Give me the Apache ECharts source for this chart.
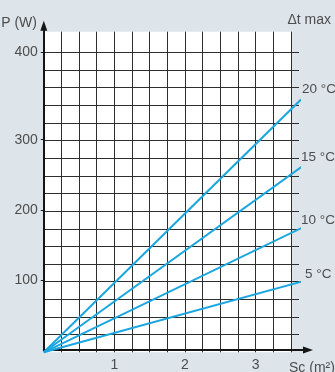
<!DOCTYPE html>
<html>
<head>
<meta charset="utf-8">
<script src="https://cdn.jsdelivr.net/npm/echarts@6/dist/echarts.min.js"></script>
<style>
html,body{margin:0;padding:0;background:#dde5eb;}
#c{width:335px;height:372px;}
</style>
</head>
<body>
<div id="c"></div>
<script>
// ---- data ----
const seriesNames = ['5 °C', '10 °C', '15 °C', '20 °C'];
const dt5  = [[0, 0], [3.68, 101]];
const dt10 = [[0, 0], [3.647, 176]];
const dt15 = [[0, 0], [3.657, 263]];
const dt20 = [[0, 0], [3.643, 358]];
const xTickValues = [1, 2, 3];
const yTickValues = [100, 200, 300, 425];
const yTickLabels = ['100', '200', '300', '400'];

// ---- layout ----
const X0 = 43.8, Y0 = 352.3, KX = 70.6, KY = 0.706;
const FONT = 'Liberation Sans, Arial, sans-serif';
const TXT = '#4d4d4d';
const GRIDC = '#2e2e2e';

function gridAt(xmax, ymax) {
  return { left: X0, width: xmax * KX, top: Y0 - ymax * KY, height: ymax * KY };
}
const gA = { xmax: 3.5, ymax: (Y0 - 31.7) / KY };
const gB = { xmax: (299 - X0) / KX, ymax: 425 };
const gC = { xmax: (308 - X0) / KX, ymax: (Y0 - 25.7) / KY };

const lineSeries = [dt5, dt10, dt15, dt20];
const labelOffsets = [[4, -7], [0, -8], [0, -10], [1, -10]];

const chart = echarts.init(document.getElementById('c'), null, { renderer: 'canvas' });
chart.setOption({
  animation: false,
  backgroundColor: '#dde5eb',
  grid: [
    Object.assign({ show: true, backgroundColor: '#ffffff', borderWidth: 0, containLabel: false }, gridAt(gA.xmax, gA.ymax)),
    Object.assign({ show: false, containLabel: false }, gridAt(gB.xmax, gB.ymax)),
    Object.assign({ show: false, containLabel: false }, gridAt(gC.xmax, gC.ymax))
  ],
  xAxis: [
    { gridIndex: 0, type: 'value', min: 0, max: gA.xmax, interval: 0.25,
      axisLine: { show: false }, axisTick: { show: false }, axisLabel: { show: false },
      splitLine: { show: true, showMinLine: false, showMaxLine: true, lineStyle: { color: GRIDC, width: 1 } } },
    { gridIndex: 1, type: 'value', min: 0, max: gB.xmax, show: false, splitLine: { show: false } },
    { gridIndex: 2, type: 'value', min: 0, max: gC.xmax, interval: 1,
      axisLine: { show: true, symbol: ['none', 'triangle'], symbolSize: [7, 10], lineStyle: { color: '#151515', width: 2 } },
      axisTick: { show: false },
      splitLine: { show: false },
      axisLabel: { show: true, customValues: xTickValues, margin: 8, color: TXT, fontSize: 14, fontFamily: FONT,
        formatter: v => String(v) } }
  ],
  yAxis: [
    { gridIndex: 0, type: 'value', min: 0, max: gA.ymax, show: false, splitLine: { show: false } },
    { gridIndex: 1, type: 'value', min: 0, max: 425, interval: 25,
      axisLine: { show: false }, axisTick: { show: false }, axisLabel: { show: false },
      splitLine: { show: true, showMinLine: false, showMaxLine: true, lineStyle: { color: GRIDC, width: 1 } } },
    { gridIndex: 2, type: 'value', min: 0, max: gC.ymax,
      axisLine: { show: true, symbol: ['none', 'triangle'], symbolSize: [7, 10], lineStyle: { color: '#151515', width: 2 } },
      axisTick: { show: true, customValues: yTickValues, length: 3, lineStyle: { color: '#151515', width: 1 } },
      splitLine: { show: false },
      axisLabel: { show: true, customValues: yTickValues, margin: 6, color: TXT, fontSize: 14, fontFamily: FONT,
        formatter: v => { const i = yTickValues.indexOf(v); return i >= 0 ? yTickLabels[i] : ''; } } }
  ],
  series: lineSeries.map((d, i) => ({
    name: seriesNames[i],
    type: 'line',
    xAxisIndex: 1, yAxisIndex: 1,
    data: d,
    showSymbol: false,
    clip: false,
    z: 5,
    lineStyle: { color: '#1aa6e0', width: 2 },
    endLabel: { show: true, formatter: seriesNames[i], distance: 0, offset: labelOffsets[i],
      color: TXT, fontSize: 13.5, fontFamily: FONT }
  })),
  graphic: [
    { type: 'text', x: 37, y: 23, style: { text: 'P (W)', textAlign: 'right', textVerticalAlign: 'middle', fill: TXT, fontSize: 14, fontFamily: FONT } },
    { type: 'text', x: 331, y: 20, style: { text: 'Δt max', textAlign: 'right', textVerticalAlign: 'middle', fill: TXT, fontSize: 14, fontFamily: FONT } },
    { type: 'text', x: 289, y: 368, style: { text: 'Sc (m²)', textAlign: 'left', textVerticalAlign: 'middle', fill: TXT, fontSize: 14, fontFamily: FONT } }
  ]
});
</script>
</body>
</html>
